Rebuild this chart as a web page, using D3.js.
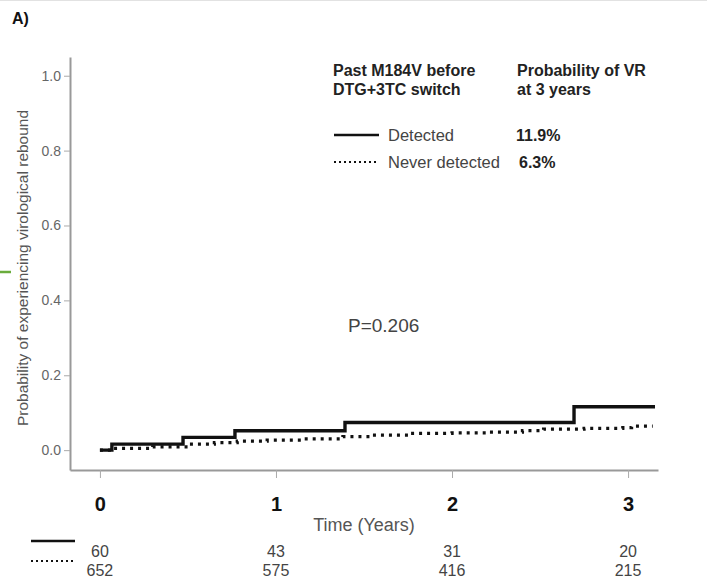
<!DOCTYPE html>
<html>
<head>
<meta charset="utf-8">
<script src="https://cdn.jsdelivr.net/npm/d3@7"></script>
<style>
  body { margin: 0; background: #fff; }
  svg { display: block; font-family: "Liberation Sans", Arial, sans-serif; }
</style>
</head>
<body>
<svg width="707" height="586"></svg>
<script>
// step points: [time in years, cumulative probability]
const detected = [[0, 0], [0.068, 0.016], [0.472, 0.034], [0.767, 0.052], [1.392, 0.074], [2.693, 0.116], [3.153, 0.116]];
const neverDetected = [[0, 0], [0.068, 0.005], [0.30, 0.009], [0.51, 0.016], [0.65, 0.020], [0.78, 0.024], [0.95, 0.027],
  [1.15, 0.030], [1.38, 0.036], [1.55, 0.040], [1.76, 0.045], [2.00, 0.046], [2.20, 0.048], [2.40, 0.052],
  [2.52, 0.056], [2.75, 0.058], [2.97, 0.060], [3.02, 0.064], [3.14, 0.064]];
const xTicks = [0, 1, 2, 3];
const yTicks = [0, 0.2, 0.4, 0.6, 0.8, 1.0];
const atRiskDetected = [60, 43, 31, 20];
const atRiskNever = [652, 575, 416, 215];
const groups = ['Detected', 'Never detected'];
const probAt3y = ['11.9%', '6.3%'];

const svg = d3.select('svg');

const x = d3.scaleLinear().domain([-0.17, 3.17]).range([70, 658]);
const y = d3.scaleLinear().domain([-0.053, 1.05]).range([470, 57]);

// faint frame line at the top of the figure
svg.append('line').attr('x1', 0).attr('x2', 707).attr('y1', 0.5).attr('y2', 0.5)
  .attr('stroke', '#e2e2e2');

svg.append('text').attr('x', 12).attr('y', 24).text('A)')
  .attr('font-size', 16).attr('font-weight', 'bold').attr('fill', '#111');

// green mark at left edge
svg.append('line').attr('x1', 0).attr('x2', 11).attr('y1', 272).attr('y2', 272)
  .attr('stroke', '#6aac3c').attr('stroke-width', 2.5);

// y axis
const yAxis = svg.append('g').attr('transform', 'translate(70,0)')
  .call(d3.axisLeft(y).tickValues(yTicks).tickFormat(d3.format('.1f')).tickSize(6).tickSizeOuter(0).tickPadding(3));
yAxis.select('.domain').attr('stroke', '#999').attr('stroke-width', 2);
yAxis.selectAll('.tick line').attr('stroke', '#aaa');
yAxis.selectAll('.tick text').attr('fill', '#666').attr('font-size', 14);

// x axis
const xAxis = svg.append('g').attr('transform', 'translate(0,470)')
  .call(d3.axisBottom(x).tickValues(xTicks).tickFormat(d3.format('d')).tickSize(8).tickSizeOuter(0).tickPadding(19));
xAxis.select('.domain').attr('stroke', '#999').attr('stroke-width', 2);
xAxis.selectAll('.tick line').attr('stroke', '#aaa');
xAxis.selectAll('.tick text').attr('fill', '#111').attr('font-size', 20).attr('font-weight', 'bold');

svg.append('text').attr('x', 364).attr('y', 531).attr('text-anchor', 'middle')
  .text('Time (Years)').attr('font-size', 18).attr('fill', '#555');

svg.append('text').attr('transform', 'translate(28,268) rotate(-90)').attr('text-anchor', 'middle')
  .text('Probability of experiencing virological rebound').attr('font-size', 15.5).attr('fill', '#555');

// curves
const line = d3.line().x((d) => x(d[0])).y((d) => y(d[1])).curve(d3.curveStepAfter);
svg.append('path').datum(neverDetected).attr('d', line)
  .attr('fill', 'none').attr('stroke', '#111').attr('stroke-width', 3.2).attr('stroke-dasharray', '3 5');
svg.append('path').datum(detected).attr('d', line)
  .attr('fill', 'none').attr('stroke', '#111').attr('stroke-width', 3.4);

svg.append('text').attr('x', 348).attr('y', 332).text('P=0.206')
  .attr('font-size', 19).attr('fill', '#444');

// legend
const lg = svg.append('g').attr('font-size', 16).attr('fill', '#222');
lg.append('text').attr('x', 333).attr('y', 76).text('Past M184V before').attr('font-weight', 'bold');
lg.append('text').attr('x', 333).attr('y', 95).text('DTG+3TC switch').attr('font-weight', 'bold');
lg.append('text').attr('x', 517).attr('y', 76).text('Probability of VR').attr('font-weight', 'bold');
lg.append('text').attr('x', 517).attr('y', 95).text('at 3 years').attr('font-weight', 'bold');

const rows = lg.selectAll('.row').data(groups).enter().append('g')
  .attr('transform', (d, i) => `translate(0,${135 + i * 27})`);
rows.append('line').attr('x1', 334).attr('x2', 379).attr('y1', 0).attr('y2', 0)
  .attr('stroke', '#111').attr('stroke-width', (d, i) => (i === 0 ? 2.6 : 2))
  .attr('stroke-dasharray', (d, i) => (i === 0 ? null : '2 3'));
rows.append('text').attr('x', 388).attr('y', 6).text((d) => d).attr('fill', '#444').attr('font-size', 16.5);
rows.append('text').attr('x', (d, i) => (i === 0 ? 516 : 519)).attr('y', 6).text((d, i) => probAt3y[i])
  .attr('font-weight', 'bold');

// number at risk
svg.append('line').attr('x1', 31).attr('x2', 75).attr('y1', 541).attr('y2', 541)
  .attr('stroke', '#111').attr('stroke-width', 2.6);
svg.append('line').attr('x1', 31).attr('x2', 73).attr('y1', 561).attr('y2', 561)
  .attr('stroke', '#111').attr('stroke-width', 2).attr('stroke-dasharray', '2 3');

const risk = svg.append('g').attr('font-size', 16).attr('fill', '#444').attr('text-anchor', 'middle');
risk.selectAll('.rd').data(atRiskDetected).enter().append('text')
  .attr('x', (d, i) => x(xTicks[i])).attr('y', 557).text((d) => d);
risk.selectAll('.rn').data(atRiskNever).enter().append('text')
  .attr('x', (d, i) => x(xTicks[i])).attr('y', 576).text((d) => d);
</script>
</body>
</html>
